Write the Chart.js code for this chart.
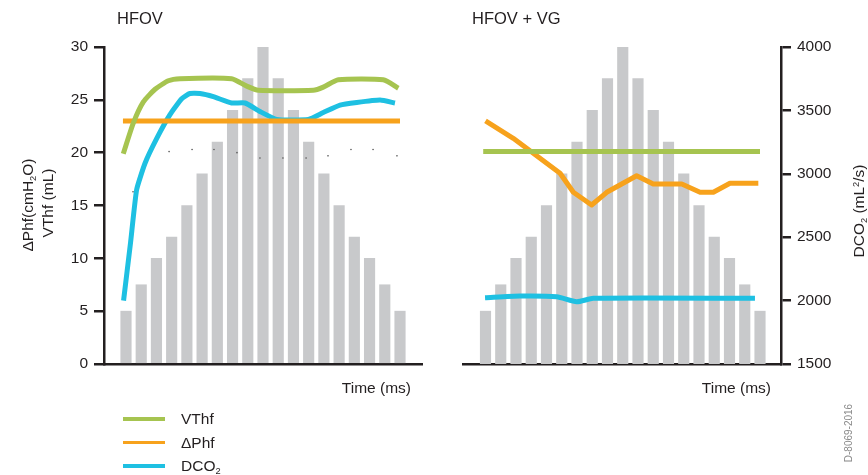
<!DOCTYPE html>
<html>
<head>
<meta charset="utf-8">
<script src="https://cdn.jsdelivr.net/npm/chart.js@4"></script>
<style>
  html, body { margin: 0; padding: 0; background: #fff; }
  #wrap { position: relative; width: 868px; height: 475px; font-family: "Liberation Sans", Arial, Helvetica, sans-serif; color: #231f20; }
  canvas { position: absolute; top: 0; }
  .txt { position: absolute; white-space: nowrap; line-height: 1; }
  .rot { position: absolute; white-space: nowrap; line-height: 1; transform: translate(-50%, -50%) rotate(-90deg); }
  sub { font-size: 0.6em; vertical-align: -0.3em; line-height: 0; }
  sup { font-size: 0.6em; vertical-align: 0.55em; line-height: 0; }
  .key { position: absolute; left: 123px; width: 42px; height: 3.5px; }
</style>
</head>
<body>
<div id="wrap">
  <canvas id="leftChart" width="440" height="475" style="left:0"></canvas>
  <canvas id="rightChart" width="428" height="475" style="left:440px"></canvas>

  <div class="txt" style="left:117px;top:10px;font-size:16.5px">HFOV</div>
  <div class="txt" style="left:472px;top:10px;font-size:16.5px">HFOV + VG</div>
  <div class="txt" style="right:457px;top:380px;font-size:15.5px">Time (ms)</div>
  <div class="txt" style="right:97px;top:380px;font-size:15.5px">Time (ms)</div>

  <div class="rot" style="left:28px;top:205px;font-size:15.5px">ΔPhf(cmH<sub>2</sub>O)</div>
  <div class="rot" style="left:47.5px;top:203px;font-size:15.5px">VThf (mL)</div>
  <div class="rot" style="left:859px;top:211px;font-size:15.5px">DCO<sub>2</sub> (mL<sup>2</sup>/s)</div>
  <div class="rot" style="left:849px;top:433px;font-size:10px;color:#8a8a8a">D-8069-2016</div>

  <div class="key" style="top:417px;background:#a6c450"></div>
  <div class="txt" style="left:181px;top:411px;font-size:15.5px">VThf</div>
  <div class="key" style="top:440.5px;background:#f7a21c"></div>
  <div class="txt" style="left:181px;top:434.5px;font-size:15.5px">ΔPhf</div>
  <div class="key" style="top:464px;background:#1ec0e2"></div>
  <div class="txt" style="left:181px;top:458px;font-size:15.5px">DCO<sub>2</sub></div>
</div>

<script>
// time steps (one per bar) and the grey bars, same in both panels
const timeIdx = [0, 1, 2, 3, 4, 5, 6, 7, 8, 9, 10, 11, 12, 13, 14, 15, 16, 17, 18];
const barHeights = [5, 7.5, 10, 12, 15, 18, 21, 24, 27, 30, 27, 24, 21, 18, 15, 12, 10, 7.5, 5];

// HFOV panel (left axis, 0-30)
const hfovVthfX = [-0.18, 0.48, 1.14, 1.91, 2.78, 3.55, 6.94, 7.93, 8.69, 12.3, 12.96, 13.95, 16.9, 17.89];
const hfovVthfY = [19.9, 22.8, 24.8, 26.0, 26.8, 27.0, 27.0, 26.3, 25.9, 25.9, 26.2, 26.9, 26.9, 26.1];
const hfovPhfX = [-0.2, 18.0];
const hfovPhfY = [23.0, 23.0];
const hfovDcoX = [-0.16, 0.3, 0.7, 1.25, 2.02, 2.89, 3.66, 4.2, 4.86, 5.74, 6.94, 7.82, 8.8, 9.9, 11.98, 12.96, 14.06, 15.16, 16.69, 17.67];
const hfovDcoY = [6.0, 11.5, 16.5, 19.0, 21.35, 23.6, 25.1, 25.6, 25.6, 25.3, 24.7, 24.7, 23.9, 23.15, 23.15, 23.8, 24.5, 24.75, 24.98, 24.7];
const hfovDotsX = [0.46, 2.83, 4.34, 5.78, 7.29, 8.8, 10.31, 11.83, 13.27, 14.78, 16.23, 17.8];
const hfovDotsY = [16.3, 20.1, 20.3, 20.3, 20.0, 19.5, 19.5, 19.5, 19.7, 20.3, 20.3, 19.7];

// HFOV + VG panel (VThf / dPhf on the 0-30 scale, DCO2 on the right axis)
const vgVthfX = [-0.15, 18.0];
const vgVthfY = [20.1, 20.1];
const vgPhfX = [0, 1.82, 4.89, 5.76, 6.96, 7.95, 9.91, 11.0, 12.87, 14.07, 14.94, 16.03, 17.89];
const vgPhfY = [23.0, 21.36, 18.05, 16.25, 15.05, 16.25, 17.82, 17.03, 17.03, 16.25, 16.25, 17.1, 17.1];
const vgDcoX = [-0.03, 2.26, 4.67, 5.98, 7.07, 17.67];
const vgDcoY = [2023, 2036, 2030, 1991, 2018, 2018];

const leftTicks = [0, 5, 10, 15, 20, 25, 30];
const rightTicks = [1500, 2000, 2500, 3000, 3500, 4000];

const GREEN = '#a6c450';
const ORANGE = '#f7a21c';
const BLUE = '#1ec0e2';
const GREY = '#c8c9cb';
const INK = '#231f20';
const FONT = '"Liberation Sans", Arial, Helvetica, sans-serif';

function pts(xs, ys) {
    return xs.map((x, i) => ({ x: x, y: ys[i] }));
}

function lineSet(label, xs, ys, color, yAxisID, order, tension) {
    return {
        type: 'line',
        label: label,
        data: pts(xs, ys),
        borderColor: color,
        borderWidth: 5,
        borderJoinStyle: 'round',
        pointRadius: 0,
        tension: tension || 0,
        yAxisID: yAxisID,
        order: order
    };
}

function barSet(yAxisID) {
    return {
        type: 'bar',
        data: pts(timeIdx, barHeights),
        backgroundColor: GREY,
        barThickness: 10.5,
        yAxisID: yAxisID,
        order: 10
    };
}

function xScale(min, max) {
    return {
        type: 'linear',
        min: min,
        max: max,
        offset: false,
        bounds: 'data',
        z: 1,
        ticks: { display: false },
        grid: { display: false, offset: false },
        border: { display: true, color: INK, width: 2.5 },
        afterFit: s => { s.height = 0; }
    };
}

function valueAxis(position, min, max, ticks, width) {
    return {
        position: position,
        min: min,
        max: max,
        z: 1,
        afterBuildTicks: s => { s.ticks = ticks.map(v => ({ value: v })); },
        ticks: { color: INK, padding: 6, font: { family: FONT, size: 15.5 }, callback: v => String(v) },
        grid: { drawOnChartArea: false, drawTicks: true, tickLength: 10, color: INK, lineWidth: 2.5 },
        border: { display: true, color: INK, width: 2.5 },
        afterFit: s => { s.width = width; }
    };
}

const common = {
    responsive: false,
    animation: false,
    plugins: { legend: { display: false }, tooltip: { enabled: false } }
};

new Chart(document.getElementById('leftChart'), {
    data: {
        datasets: [
            lineSet('VThf', hfovVthfX, hfovVthfY, GREEN, 'y', 1, 0.2),
            lineSet('ΔPhf', hfovPhfX, hfovPhfY, ORANGE, 'y', 2),
            lineSet('DCO2', hfovDcoX, hfovDcoY, BLUE, 'y', 3, 0.15),
            {
                type: 'line', label: 'marks', data: pts(hfovDotsX, hfovDotsY), showLine: false,
                pointRadius: 0.8, pointBorderWidth: 0, pointBackgroundColor: '#555', yAxisID: 'y', order: 0
            },
            barSet('y')
        ]
    },
    options: Object.assign({}, common, {
        layout: { padding: { top: 47, bottom: 111, left: 0, right: 18 } },
        scales: {
            x: xScale(-1.445, 19.445),
            y: valueAxis('left', 0, 30, leftTicks, 104)
        }
    })
});

new Chart(document.getElementById('rightChart'), {
    data: {
        datasets: [
            lineSet('VThf', vgVthfX, vgVthfY, GREEN, 'yb', 1),
            lineSet('ΔPhf', vgPhfX, vgPhfY, ORANGE, 'yb', 2),
            lineSet('DCO2', vgDcoX, vgDcoY, BLUE, 'y1', 3, 0.2),
            barSet('yb')
        ]
    },
    options: Object.assign({}, common, {
        layout: { padding: { top: 47, bottom: 111, left: 23, right: 0 } },
        scales: {
            x: xScale(-1.475, 19.377),
            yb: { display: false, min: 0, max: 30 },
            y1: valueAxis('right', 1500, 4000, rightTicks, 87)
        }
    })
});
</script>
</body>
</html>
